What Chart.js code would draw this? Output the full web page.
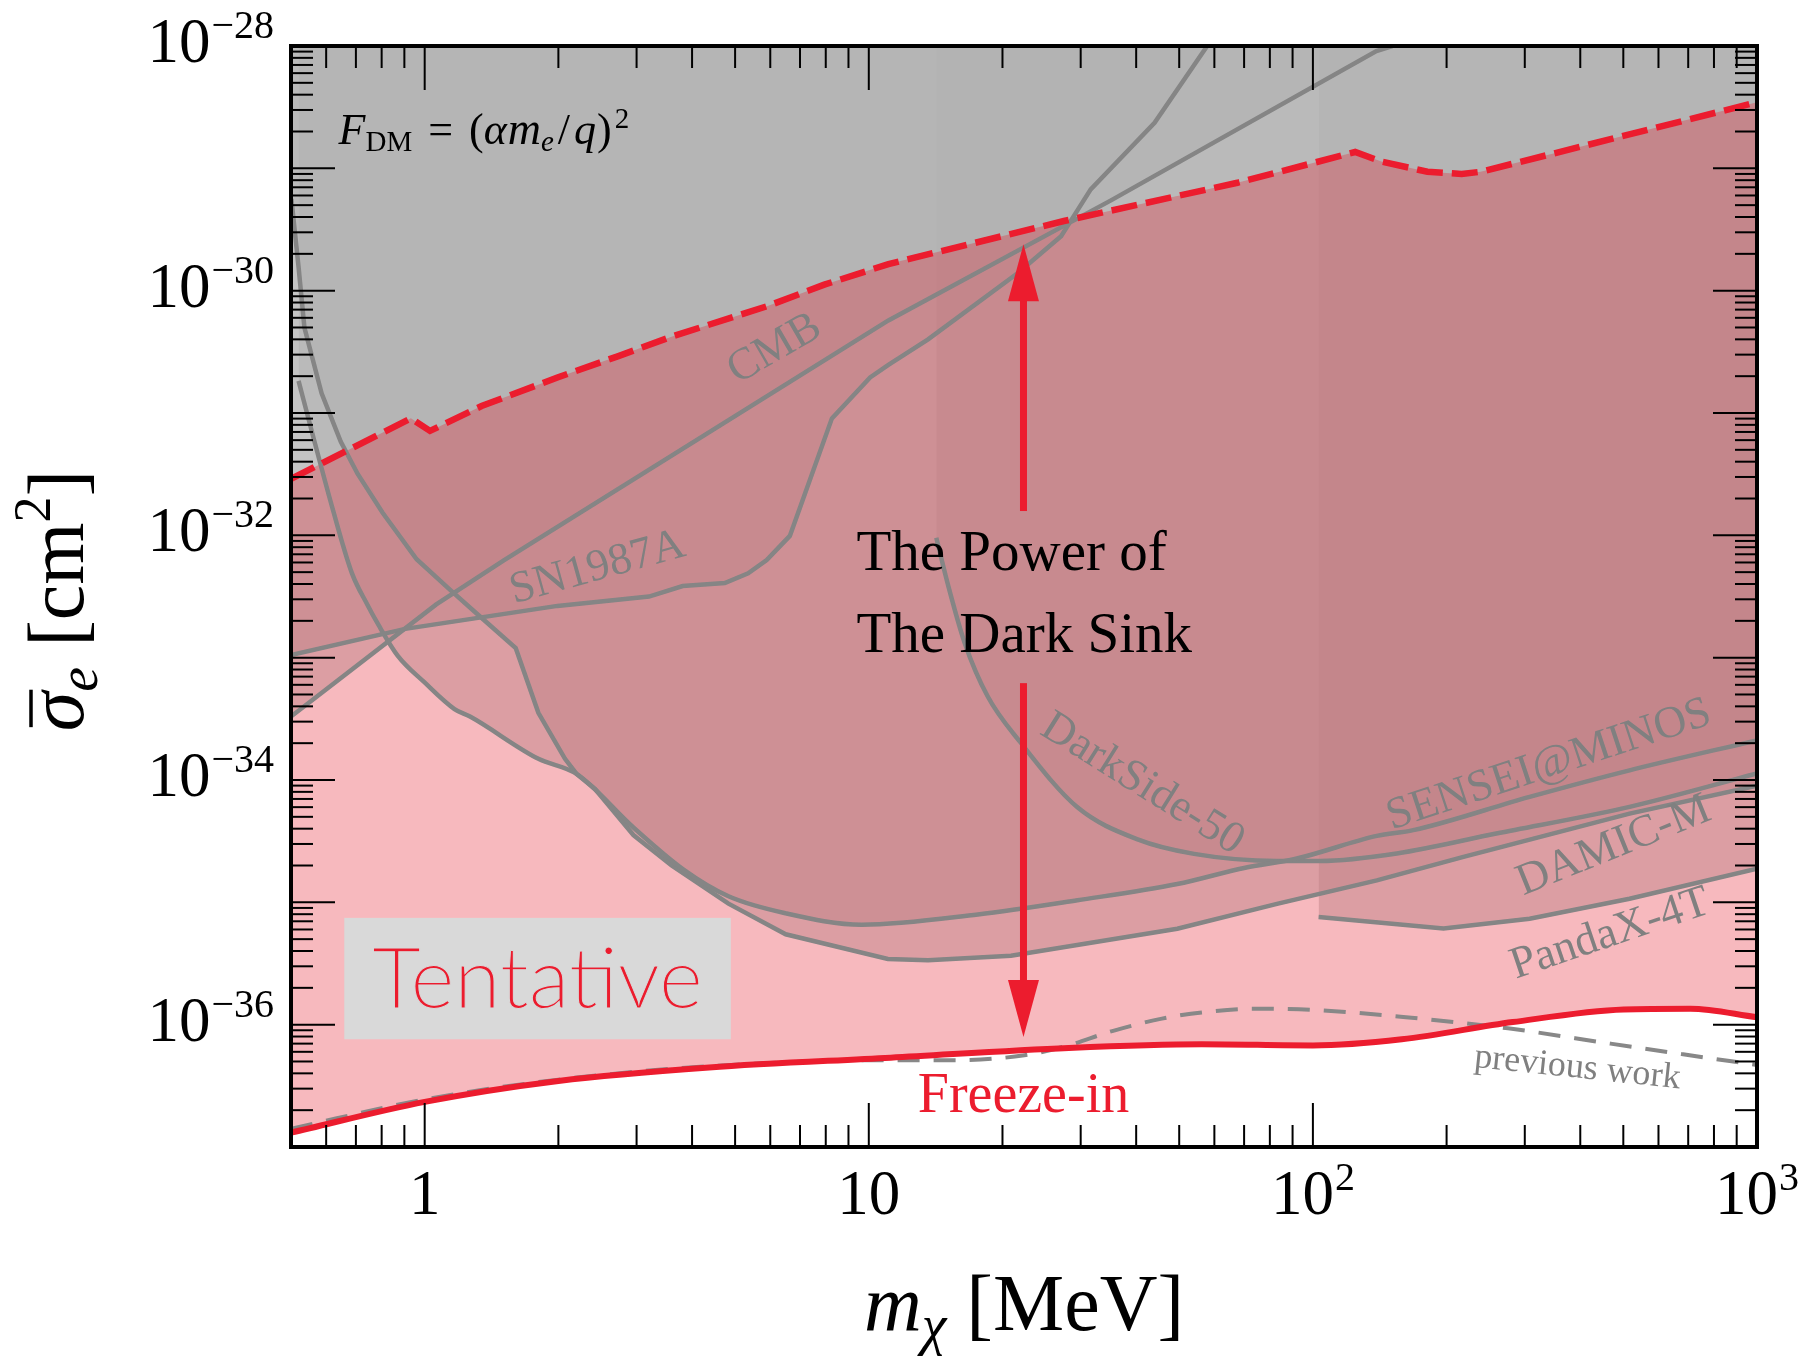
<!DOCTYPE html>
<html>
<head>
<meta charset="utf-8">
<script src="https://cdn.jsdelivr.net/npm/chart.js@4.4.1/dist/chart.umd.min.js"></script>
<style>
  html, body { margin: 0; padding: 0; background: #fff; }
</style>
</head>
<body>
<canvas id="sinkChart" width="1805" height="1361"></canvas>
<script>
// ---- data (mass in MeV, cross section in cm^2) ----
const sinkMass = [0.5, 0.931, 1.028, 1.343, 1.99, 2.73, 3.61, 5.90, 7.94, 11.07, 27.5, 67.6, 124.5, 142.6, 181.1, 216.3, 238.8, 400, 1000];
const sinkSigma = [2.89e-32, 9.04e-32, 7.14e-32, 1.14e-31, 1.95e-31, 2.92e-31, 4.23e-31, 7.46e-31, 1.12e-30, 1.65e-30, 3.71e-30, 7.62e-30, 1.36e-29, 1.135e-29, 9.38e-30, 8.99e-30, 9.38e-30, 1.50e-29, 3.47e-29];

const freezeMass = [0.5, 1, 2, 4.37, 11.2, 28.2, 56.2, 100, 158.5, 281.8, 501, 708, 1000];
const freezeSigma = [1.31e-37, 2.34e-37, 3.47e-37, 4.47e-37, 5.37e-37, 6.46e-37, 6.92e-37, 6.76e-37, 7.59e-37, 1.05e-36, 1.33e-36, 1.35e-36, 1.15e-36];

const prevMass = [0.5, 1, 2, 4.37, 11, 15.8, 22.4, 27.5, 35.5, 45.7, 56.2, 74.1, 100, 162, 275, 468, 676, 1000];
const prevSigma = [1.41e-37, 2.45e-37, 3.55e-37, 4.57e-37, 5.13e-37, 5.13e-37, 5.62e-37, 6.61e-37, 8.91e-37, 1.12e-36, 1.26e-36, 1.35e-36, 1.32e-36, 1.15e-36, 9.33e-37, 7.0e-37, 5.75e-37, 4.68e-37];

const cmbMass = [0.5, 1.06, 1.51, 11.07, 35.1, 139, 151];
const cmbSigma = [3.30e-34, 2.71e-33, 6.27e-33, 5.71e-31, 5.47e-30, 9.1e-29, 1e-28];

const snMass = [0.5, 0.904, 1.99, 3.20, 3.81, 4.74, 5.35, 5.89, 6.64, 8.26, 10.07, 11.07, 13.6, 21.7, 27.1, 31.6, 44.0, 57.8];
const snSigma = [1.05e-33, 1.72e-33, 2.65e-33, 3.16e-33, 3.85e-33, 4.07e-33, 4.89e-33, 6.27e-33, 9.89e-33, 9.04e-32, 1.95e-31, 2.47e-31, 4.0e-31, 1.40e-30, 2.79e-30, 6.73e-30, 2.36e-29, 1e-28];

const senseiMass = [0.52, 0.562, 0.621, 0.686, 0.743, 0.787, 0.869, 0.998, 1.167, 1.265, 1.803, 2.198, 2.951, 3.819, 4.831, 6.50, 9.64, 17.6, 29.5, 49.5, 70.0, 92.0, 139.3, 168.3, 307.6, 516.4, 1000];
const senseiSigma = [1.83e-31, 6.25e-32, 1.63e-32, 4.89e-33, 2.71e-33, 1.85e-33, 1.04e-33, 6.30e-34, 3.80e-34, 3.30e-34, 1.49e-34, 1.12e-34, 4.09e-35, 1.86e-35, 1.12e-35, 8.13e-36, 6.56e-36, 7.96e-36, 1.04e-35, 1.41e-35, 1.91e-35, 2.28e-35, 3.49e-35, 3.89e-35, 7.28e-35, 1.20e-34, 2.11e-34];

const damicMass = [0.501, 0.52, 0.536, 0.586, 0.647, 0.706, 0.804, 0.959, 1.146, 1.340, 1.603, 1.803, 2.070, 2.198, 2.421, 2.951, 3.597, 4.831, 6.50, 11.04, 13.6, 20.9, 49.5, 83.0, 139.3, 218.3, 516.4, 1000];
const damicSigma = [5.62e-30, 1.56e-30, 5.00e-31, 1.45e-31, 5.85e-32, 3.19e-32, 1.53e-32, 6.38e-33, 3.53e-33, 2.13e-33, 1.20e-33, 3.54e-34, 1.49e-34, 1.12e-34, 8.41e-35, 3.55e-35, 2.0e-35, 9.75e-36, 5.48e-36, 3.44e-36, 3.36e-36, 3.66e-36, 6.08e-36, 9.72e-36, 1.51e-35, 2.35e-35, 5.31e-35, 8.99e-35];

const darksideMass = [14.19, 15.1, 16.44, 18.53, 22.03, 29.5, 40.3, 54.0, 83.0, 104, 154.5, 258.8, 516.4, 1000];
const darksideSigma = [9.57e-33, 3.86e-33, 1.32e-33, 4.81e-34, 2.00e-34, 5.98e-35, 3.27e-35, 2.49e-35, 2.18e-35, 2.18e-35, 2.51e-35, 3.65e-35, 6.03e-35, 1.13e-34];

const pandaMass = [103, 196.8, 307.6, 516.4, 1000];
const pandaSigma = [7.59e-36, 6.10e-36, 7.35e-36, 1.07e-35, 1.88e-35];

// axis ticks
const xMajor = [1, 10, 100, 1000];
const xTickLabels = ['1', '10', '10^2', '10^3'];
const yMajor = [1e-37, 1e-36, 1e-35, 1e-34, 1e-33, 1e-32, 1e-31, 1e-30, 1e-29, 1e-28];
const yLabelTicks = [1e-36, 1e-34, 1e-32, 1e-30, 1e-28];
const yTickLabels = ['10^-36', '10^-34', '10^-32', '10^-30', '10^-28'];

const RED = '#ec1c2e';
const GRAY = '#858585';
const SERIF = '"Liberation Serif", "DejaVu Serif", serif';

const pts = (xs, ys) => xs.map((x, i) => ({x: x, y: ys[i]}));

function constraint(label, xs, ys, smooth) {
    return {
        label: label,
        data: pts(xs, ys),
        borderColor: GRAY,
        borderWidth: 4.5,
        backgroundColor: 'rgba(177,177,177,0.5)',
        fill: 'end',
        tension: 0,
        cubicInterpolationMode: smooth ? 'monotone' : 'default',
        clip: 0
    };
}

// labels on the curves (anchor in data coordinates)
const curveLabels = [
    {text: 'CMB', m: 6.14, s: 3.33e-31, rot: -30},
    {text: 'SN1987A', m: 2.45, s: 5.40e-33, rot: -15.5},
    {text: 'DarkSide-50', m: 41.3, s: 9.25e-35, rot: 32},
    {text: 'SENSEI@MINOS', m: 340, s: 1.32e-34, rot: -18.3},
    {text: 'DAMIC-M', m: 476, s: 2.88e-35, rot: -22},
    {text: 'PandaX-4T', m: 467, s: 5.48e-36, rot: -18.7},
    {text: 'previous work', m: 394, s: 4.41e-37, rot: 6, size: 36}
];

function setFont(ctx, p) {
    ctx.font = (p.it ? 'italic ' : '') + p.s + 'px ' + SERIF;
}

// draw a run of text pieces (size, italic, vertical shift, extra gap before)
function drawRich(ctx, parts, x, y, align) {
    let w = 0;
    parts.forEach(p => { setFont(ctx, p); w += ctx.measureText(p.t).width + (p.gap || 0); });
    let cx = align === 'center' ? x - w / 2 : (align === 'right' ? x - w : x);
    ctx.textAlign = 'left';
    ctx.textBaseline = 'alphabetic';
    const out = [];
    parts.forEach(p => {
        setFont(ctx, p);
        cx += p.gap || 0;
        ctx.fillText(p.t, cx, y + (p.dy || 0));
        const pw = ctx.measureText(p.t).width;
        out.push({x: cx, w: pw});
        cx += pw;
    });
    return out;
}

function powParts(label) {
    const bits = label.split('^');
    const parts = [{t: bits[0], s: 63}];
    if (bits.length > 1) parts.push({t: bits[1].replace('-', '\u2212'), s: 40, dy: -24, gap: 1});
    return parts;
}

function line(ctx, x1, y1, x2, y2) {
    ctx.beginPath();
    ctx.moveTo(x1, y1);
    ctx.lineTo(x2, y2);
    ctx.stroke();
}

const decor = {
    id: 'decor',
    afterDatasetsDraw(chart) {
        const {ctx, chartArea: a, scales: {x, y}} = chart;
        ctx.save();

        // Tentative box
        const bx1 = x.getPixelForValue(0.659), bx2 = x.getPixelForValue(4.89);
        const by1 = y.getPixelForValue(7.46e-36), by2 = y.getPixelForValue(7.6e-37);
        ctx.fillStyle = '#d9d9d9';
        ctx.fillRect(bx1, by1, bx2 - bx1, by2 - by1);
        ctx.font = '300 84px "Lato Light", Lato, sans-serif';
        ctx.textAlign = 'center';
        ctx.textBaseline = 'alphabetic';
        const tx = (bx1 + bx2) / 2, ty = (by1 + by2) / 2 + 29;
        ctx.fillStyle = RED;
        ctx.fillText('Tentative', tx, ty);
        ctx.strokeStyle = '#d9d9d9';
        ctx.lineWidth = 1;
        ctx.strokeText('Tentative', tx, ty);

        // curve labels
        ctx.fillStyle = '#808080';
        curveLabels.forEach(l => {
            ctx.save();
            ctx.translate(x.getPixelForValue(l.m), y.getPixelForValue(l.s));
            ctx.rotate(l.rot * Math.PI / 180);
            ctx.font = (l.size || 45) + 'px ' + SERIF;
            ctx.textAlign = 'center';
            ctx.textBaseline = 'middle';
            ctx.fillText(l.text, 0, 0);
            ctx.restore();
        });

        // formula
        ctx.fillStyle = '#000';
        drawRich(ctx, [
            {t: 'F', s: 44, it: true},
            {t: 'DM', s: 29, dy: 7},
            {t: '=', s: 44, gap: 16},
            {t: '(', s: 44, gap: 16},
            {t: '\u03b1', s: 44, it: true},
            {t: 'm', s: 46, it: true, gap: 1},
            {t: 'e', s: 29, it: true, dy: 7},
            {t: '/', s: 44, gap: 4},
            {t: 'q', s: 44, it: true, gap: 4},
            {t: ')', s: 44, gap: 1},
            {t: '2', s: 29, dy: -16, gap: 3}
        ], x.getPixelForValue(0.64), y.getPixelForValue(1.58e-29), 'left');

        // the power of the dark sink
        ctx.font = '57px ' + SERIF;
        ctx.textAlign = 'left';
        ctx.fillText('The Power of', x.getPixelForValue(9.38), y.getPixelForValue(5.24e-33));
        ctx.fillText('The Dark Sink', x.getPixelForValue(9.38), y.getPixelForValue(1.11e-33));

        // double arrow
        const ax = x.getPixelForValue(22.3);
        const yTop = y.getPixelForValue(2.40e-30), yBot = y.getPixelForValue(7.94e-37);
        const gap1 = y.getPixelForValue(1.58e-32), gap2 = y.getPixelForValue(6.19e-34);
        const head = 57, hw = 15.5;
        ctx.fillStyle = RED;
        ctx.fillRect(ax - 3.5, yTop + head - 2, 7, gap1 - yTop - head + 2);
        ctx.fillRect(ax - 3.5, gap2, 7, yBot - head - gap2 + 2);
        ctx.beginPath();
        ctx.moveTo(ax, yTop); ctx.lineTo(ax + hw, yTop + head); ctx.lineTo(ax - hw, yTop + head); ctx.closePath();
        ctx.fill();
        ctx.beginPath();
        ctx.moveTo(ax, yBot); ctx.lineTo(ax + hw, yBot - head); ctx.lineTo(ax - hw, yBot - head); ctx.closePath();
        ctx.fill();

        ctx.font = '56px ' + SERIF;
        ctx.textAlign = 'center';
        ctx.fillText('Freeze-in', ax, y.getPixelForValue(1.93e-37));

        // ticks (inward, all four sides)
        ctx.strokeStyle = '#000';
        ctx.lineWidth = 2;
        const major = 44, minor = 22;
        xMajor.concat([0.1]).forEach(v => {
            const px = x.getPixelForValue(v);
            if (v >= 1 && v < 1000) {
                line(ctx, px, a.bottom, px, a.bottom - major);
                line(ctx, px, a.top, px, a.top + major);
            }
            if (v < 1000) {
                for (let m = 2; m <= 9; m++) {
                    const mv = v * m;
                    if (mv <= 0.5 || mv >= 1000) continue;
                    const mp = x.getPixelForValue(mv);
                    line(ctx, mp, a.bottom, mp, a.bottom - minor);
                    line(ctx, mp, a.top, mp, a.top + minor);
                }
            }
        });
        yMajor.forEach(v => {
            const py = y.getPixelForValue(v);
            if (v > 1e-37 && v < 1e-28) {
                line(ctx, a.left, py, a.left + major, py);
                line(ctx, a.right, py, a.right - major, py);
            }
            if (v < 1e-28) {
                for (let m = 2; m <= 9; m++) {
                    const mp = y.getPixelForValue(v * m);
                    line(ctx, a.left, mp, a.left + minor, mp);
                    line(ctx, a.right, mp, a.right - minor, mp);
                }
            }
        });

        // frame
        ctx.lineWidth = 4;
        ctx.strokeRect(a.left, a.top, a.right - a.left, a.bottom - a.top);

        // tick labels
        ctx.fillStyle = '#000';
        xMajor.forEach((v, i) => {
            drawRich(ctx, powParts(xTickLabels[i]), x.getPixelForValue(v), a.bottom + 67, 'center');
        });
        yLabelTicks.forEach((v, i) => {
            drawRich(ctx, powParts(yTickLabels[i]), a.left - 17, y.getPixelForValue(v) + 16, 'right');
        });

        // axis titles
        drawRich(ctx, [
            {t: 'm', s: 80, it: true},
            {t: '\u03c7', s: 56, it: true, dy: 14},
            {t: ' [MeV]', s: 80}
        ], (a.left + a.right) / 2, a.bottom + 183, 'center');

        ctx.save();
        ctx.translate(83, (a.top + a.bottom) / 2 + 4);
        ctx.rotate(-Math.PI / 2);
        const pos = drawRich(ctx, [
            {t: '\u03c3', s: 80, it: true},
            {t: 'e', s: 56, it: true, dy: 14},
            {t: ' [cm', s: 80},
            {t: '2', s: 52, dy: -33},
            {t: ']', s: 80}
        ], 0, 0, 'center');
        ctx.lineWidth = 3.5;
        line(ctx, pos[0].x + 4, -52, pos[0].x + pos[0].w + 2, -52);
        ctx.restore();

        ctx.restore();
    }
};

new Chart(document.getElementById('sinkChart').getContext('2d'), {
    type: 'line',
    data: {
        datasets: [
            {
                label: 'Dark sink',
                data: pts(sinkMass, sinkSigma),
                borderColor: RED,
                borderWidth: 6.5,
                borderDash: [26, 9],
                backgroundColor: 'rgba(229,30,46,0.31)',
                fill: 1,
                tension: 0,
                clip: 0
            },
            {
                label: 'Freeze-in',
                data: pts(freezeMass, freezeSigma),
                borderColor: RED,
                borderWidth: 6,
                fill: false,
                cubicInterpolationMode: 'monotone',
                clip: 0
            },
            {
                label: 'previous work',
                data: pts(prevMass, prevSigma),
                borderColor: '#888888',
                borderWidth: 4,
                borderDash: [22, 14],
                fill: false,
                cubicInterpolationMode: 'monotone',
                clip: 0
            },
            constraint('CMB', cmbMass, cmbSigma, false),
            constraint('SN1987A', snMass, snSigma, false),
            constraint('SENSEI@MINOS', senseiMass, senseiSigma, true),
            constraint('DAMIC-M', damicMass, damicSigma, false),
            constraint('DarkSide-50', darksideMass, darksideSigma, true),
            constraint('PandaX-4T', pandaMass, pandaSigma, false)
        ]
    },
    options: {
        responsive: false,
        devicePixelRatio: 1,
        animation: false,
        events: [],
        layout: {padding: {left: 291, right: 48, top: 46, bottom: 214}},
        elements: {point: {radius: 0}},
        scales: {
            x: {type: 'logarithmic', min: 0.5, max: 1000, display: false},
            y: {type: 'logarithmic', min: 1e-37, max: 1e-28, display: false}
        },
        plugins: {
            legend: {display: false},
            tooltip: {enabled: false},
            filler: {drawTime: 'beforeDatasetsDraw', propagate: false}
        }
    },
    plugins: [decor]
});
</script>
</body>
</html>
